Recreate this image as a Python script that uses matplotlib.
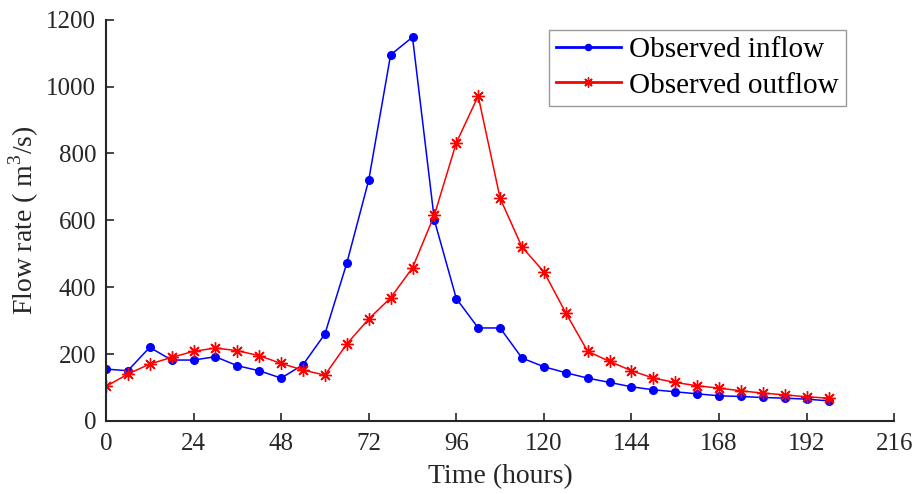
import matplotlib
matplotlib.use("Agg")
import matplotlib.pyplot as plt

plt.rcParams["font.family"] = ["Liberation Serif", "DejaVu Serif"]
plt.rcParams["mathtext.fontset"] = "custom"
plt.rcParams["mathtext.rm"] = "Liberation Serif"

hours = list(range(0, 199, 6))
inflow = [155, 150, 220, 182, 182, 192, 165, 150, 128, 168, 260, 472, 720, 1095, 1148,
          600, 366, 278, 278, 188, 162, 144, 128, 115, 102, 93, 87, 81, 75, 73, 70, 68, 65, 60]
outflow = [103, 140, 170, 190, 208, 218, 210, 195, 172, 152, 137, 230, 305, 368, 458,
           616, 832, 972, 666, 520, 446, 323, 208, 178, 150, 128, 115, 105, 98, 90, 83, 78, 72, 68]
x_ticks = list(range(0, 217, 24))
y_ticks = list(range(0, 1201, 200))

fig = plt.figure(figsize=(9.21, 4.94), dpi=100)
ax = fig.add_axes([0.115, 0.148, 0.856, 0.812])

ax.plot(hours, inflow, color="#0000ff", marker="o", markersize=5.5, linewidth=1.1,
        label="Observed inflow")
ax.plot(hours, outflow, color="#ff0000", marker=(8, 2, 0), markersize=9, markeredgewidth=1.0,
        linewidth=1.1, label="Observed outflow")

ax.set_xlim(0, 216)
ax.set_ylim(0, 1200)
ax.set_xticks(x_ticks)
ax.set_yticks(y_ticks)
ax.tick_params(direction="in", length=6, width=1.2, labelsize=18, colors="#262626")
ax.tick_params(axis="x", pad=9)
ax.tick_params(axis="y", pad=7)
for side in ("top", "right"):
    ax.spines[side].set_visible(False)
for side in ("left", "bottom"):
    ax.spines[side].set_linewidth(1.5)
    ax.spines[side].set_color("#262626")

ax.set_xlabel("Time (hours)", fontsize=20, color="#262626", labelpad=6)
ax.set_ylabel("Flow rate ( m$^\\mathregular{3}$/s)", fontsize=20, color="#262626", labelpad=4)

leg = ax.legend(loc="upper right", bbox_to_anchor=(0.939, 0.975), fontsize=21, frameon=True,
                fancybox=False, edgecolor="#808080", handlelength=2.2, borderpad=0.25,
                labelspacing=0.3, handletextpad=0.3, borderaxespad=0.0, markerscale=0.8)
leg.get_frame().set_linewidth(1.0)
for line in leg.get_lines():
    line.set_linewidth(2.0)

fig.savefig("out.png", dpi=100)
